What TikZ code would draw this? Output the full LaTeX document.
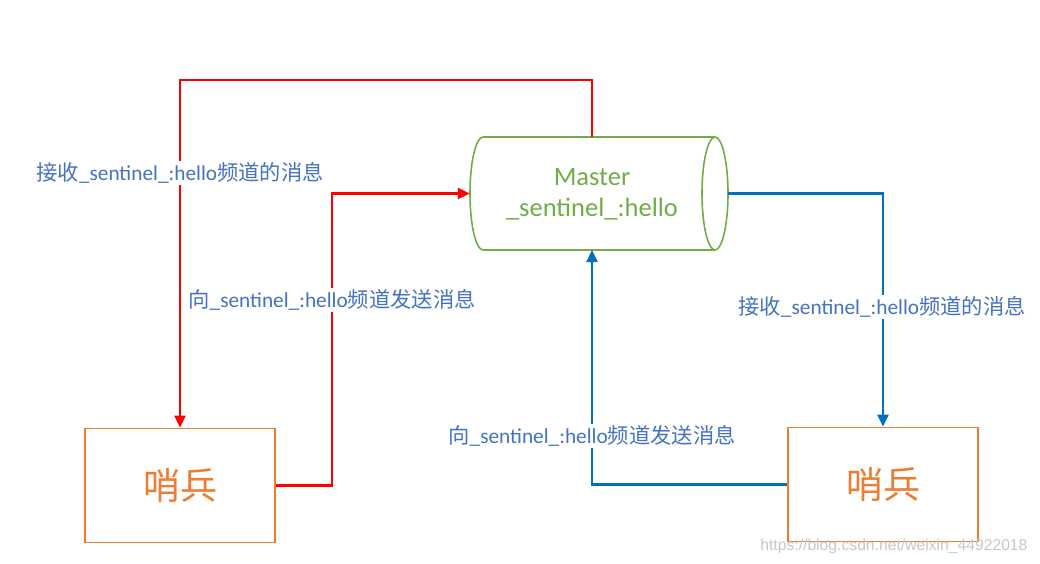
\documentclass[tikz,border=0pt]{standalone}
\usepackage{fontspec}
\setmainfont{Carlito}
\newfontfamily\cjk{Noto Sans CJK SC}
\newfontfamily\wmfont{Liberation Sans}
\usetikzlibrary{arrows.meta}
\definecolor{mred}{RGB}{255,0,0}
\definecolor{mblue}{RGB}{0,112,192}
\definecolor{mgreen}{RGB}{112,173,71}
\definecolor{morange}{RGB}{237,125,49}
\definecolor{mlabel}{RGB}{68,114,196}
\tikzset{
  redline/.style={draw=mred, line width=2.4pt, -{Triangle[length=12pt,width=11pt]}},
  blueline/.style={draw=mblue, line width=2.4pt, -{Triangle[length=12pt,width=11pt]}},
  sbox/.style={draw=morange, line width=1.8pt, minimum width=190pt, minimum height=114pt, text=morange, font=\cjk\fontsize{37}{40}\selectfont},
  lbl/.style={fill=white, text=mlabel, inner sep=2pt, font=\fontsize{21.3}{24}\selectfont},
}
\begin{document}
\begin{tikzpicture}[x=1pt,y=-1pt]
\useasboundingbox (0,0) rectangle (1040,564);
% master cylinder
\node[minimum width=258pt, minimum height=113pt, inner sep=0pt] (master) at (599,193.5) {};
\draw[mgreen, line width=1.6pt] (483,137) -- (715,137) (483,250) -- (715,250);
\draw[mgreen, line width=1.6pt] (483,137) arc[start angle=90, end angle=270, x radius=13pt, y radius=56.5pt];
\draw[mgreen, line width=1.6pt] (715,193.5) ellipse [x radius=13pt, y radius=56.5pt];
\node[text=mgreen, align=center, font=\fontsize{26.5}{31}\selectfont] (mtext) at (592,194) {Master\\\_sentinel\_:hello};
\coordinate (mtop) at (592,137);
\coordinate (mbot) at (592,250);
% sentinels
\node[sbox] (lbox) at (180,485.5) {哨兵};
\node[sbox] (rbox) at (883,484.5) {哨兵};
% connectors
\draw[redline] (mtop) -- (592,80) -| (lbox.north);
\draw[redline] (lbox.east) -| (332,300) |- (master.west);
\draw[blueline] (master.east) -| (rbox.north);
\draw[blueline] (rbox.west) -| (mbot);
% labels
\node[lbl] (l1) at (180,173) {{\cjk 接收}\_sentinel\_:hello{\cjk 频道的消息}};
\node[lbl] (l2) at (332,300) {{\cjk 向}\_sentinel\_:hello{\cjk 频道发送消息}};
\node[lbl] (l3) at (882,307) {{\cjk 接收}\_sentinel\_:hello{\cjk 频道的消息}};
\node[lbl] (l4) at (592,436) {{\cjk 向}\_sentinel\_:hello{\cjk 频道发送消息}};
% watermark
\node[text=black!22, font=\wmfont\fontsize{15.7}{18}\selectfont, anchor=east] (wm) at (1031,546) {https://blog.csdn.net/weixin\_44922018};
\end{tikzpicture}
\end{document}
